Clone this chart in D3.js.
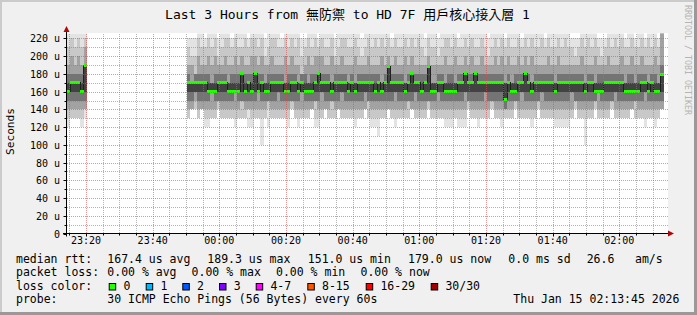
<!DOCTYPE html>
<html>
<head>
<meta charset="utf-8">
<script src="https://cdn.jsdelivr.net/npm/d3@7"></script>
<style>
body { margin: 0; background: #f0f0f0; }
text { font-family: "DejaVu Sans Mono", "Noto Sans CJK TC", monospace; fill: #000; }
</style>
</head>
<body>
<div id="chart"></div>
<script>
// ---- data ----
const titleText = "Last 3 Hours from 無防禦 to HD 7F 用戶核心接入層 1";
const startTime = new Date(2026, 0, 14, 23, 14, 18);
const endTime = new Date(2026, 0, 15, 2, 14, 18);

// minute columns with data: [first column, count]
const dataBlocks = [[0, 6], [36, 143]];

// per column values (us): block 1 (6 cols) then block 2 (143 cols)
const median = [160,170,170,170,160,189,
  170,170,170,170,170,170,160,160,160,170, 170,170,160,160,160,160,180,160,170,160,
  180,160,170,160,160,170,170,170,170,160, 160,170,170,160,170,160,160,160,170,180,
  170,170,170,160,170,170,170,170,160,170, 160,170,170,170,170,170,160,170,160,170,
  188,170,170,170,170,160,170,180,170,170, 160,170,188,160,160,170,170,160,160,160,
  160,170,170,180,170,170,180,170,170,170, 170,170,170,170,170,151,170,160,160,170,
  170,180,170,160,170,170,170,170,170,170, 160,170,170,170,170,170,170,170,170,160,
  170,170,160,160,160,170,170,170,170,170, 170,160,160,160,160,160,170,170,160,170,
  160,160,179];

// smoke: sorted ping ranks, outer to inner
const pingMax = [230,230,230,230,230,230,
  220,220,220,230,230,220,230,230,230,220, 230,230,230,220,230,230,230,230,220,230,
  230,230,230,220,230,230,230,230,220,230, 230,230,230,230,220,220,230,230,230,220,
  230,230,230,230,220,230,230,230,230,230, 230,230,220,230,230,230,230,230,230,230,
  230,220,230,230,230,230,230,230,230,230, 230,220,230,230,230,220,230,230,230,230,
  230,220,230,230,230,230,230,230,230,230, 220,230,230,230,230,220,230,230,230,230,
  220,230,230,230,230,230,230,220,230,230, 230,230,230,230,230,220,220,220,230,230,
  230,230,230,220,220,220,230,230,230,230, 230,220,230,230,220,230,230,220,230,230,
  230,220,230];
const pingHi = [210,220,210,220,210,220,
  210,200,200,220,210,210,220,210,220,200, 210,220,220,210,220,210,210,220,210,220,
  220,210,220,200,210,220,220,210,210,220, 210,220,210,220,200,210,220,210,220,210,
  220,210,210,220,200,210,220,220,210,210, 220,210,200,210,220,210,220,210,220,210,
  220,210,220,210,210,220,210,220,210,220, 210,200,220,210,210,200,210,220,220,210,
  220,210,210,220,210,220,210,210,220,210, 200,210,220,210,220,210,220,210,210,220,
  210,220,210,220,210,210,220,210,220,210, 210,220,210,220,210,210,200,210,220,210,
  220,210,220,210,200,210,220,210,220,210, 220,210,210,220,210,210,220,210,220,210,
  220,210,230];
const pingUp = [190,200,190,200,190,210,
  190,190,180,200,190,190,200,190,200,190, 190,200,190,190,200,190,200,190,190,200,
  200,190,200,190,190,200,190,190,190,200, 190,200,190,190,180,190,200,190,200,200,
  200,190,190,200,190,190,200,190,190,190, 200,190,190,190,200,190,190,190,200,190,
  200,190,200,190,190,200,190,200,190,190, 190,190,200,190,190,190,190,200,190,190,
  200,190,190,200,190,200,190,190,200,190, 190,190,200,190,200,190,200,190,190,200,
  190,200,190,200,190,190,190,190,200,190, 190,200,190,190,190,190,190,190,200,190,
  190,190,200,190,190,190,200,190,190,190, 200,190,190,200,190,190,200,190,190,190,
  200,190,230];
const quartHi = [180,180,180,180,180,190,
  180,170,180,180,180,180,180,170,180,180, 180,180,170,180,180,180,180,180,180,180,
  180,180,180,170,180,180,180,180,180,170, 180,180,180,170,180,180,170,180,180,180,
  180,180,180,170,180,180,180,180,170,180, 170,180,180,180,180,180,180,180,170,180,
  190,180,180,180,180,170,180,180,180,180, 180,180,190,170,170,180,180,170,180,180,
  170,180,180,180,180,180,180,180,180,180, 180,180,180,180,180,170,180,170,180,180,
  180,180,180,170,180,180,180,180,180,180, 170,180,180,180,180,180,180,180,180,170,
  180,180,170,180,180,180,180,180,180,180, 180,170,180,180,170,180,180,180,170,180,
  180,170,190];
const coreHi = [170,170,170,170,170,190,
  170,170,170,170,170,170,170,170,170,170, 170,170,170,170,170,170,180,170,170,170,
  180,170,170,170,170,170,170,170,170,170, 170,170,170,170,170,170,170,170,170,180,
  170,170,170,170,170,170,170,170,170,170, 170,170,170,170,170,170,170,170,170,170,
  190,170,170,170,170,170,170,180,170,170, 170,170,190,170,170,170,170,170,170,170,
  170,170,170,180,170,170,180,170,170,170, 170,170,170,170,170,170,170,170,170,170,
  170,180,170,170,170,170,170,170,170,170, 170,170,170,170,170,170,170,170,170,170,
  170,170,170,170,170,170,170,170,170,170, 170,170,170,170,170,170,170,170,170,170,
  170,170,180];
const coreLo = [160,160,160,160,160,160,
  160,160,160,160,160,160,160,160,160,160, 160,160,160,160,160,160,160,160,160,160,
  160,160,160,160,160,160,160,160,160,160, 160,160,160,160,160,160,160,160,160,160,
  160,160,160,160,160,160,160,160,160,160, 160,160,160,160,160,160,160,160,160,160,
  160,160,160,160,160,160,160,160,160,160, 160,160,160,160,160,160,160,160,160,160,
  160,160,160,160,160,160,160,160,160,160, 160,160,160,160,160,150,160,160,160,160,
  160,160,160,160,160,160,160,160,160,160, 160,160,160,160,160,160,160,160,160,160,
  160,160,160,160,160,160,160,160,160,160, 160,160,160,160,160,160,160,160,160,160,
  160,160,160];
const quartLo = [150,150,150,150,150,150,
  150,150,160,150,150,150,150,160,150,150, 150,150,150,150,160,150,150,150,150,150,
  150,160,150,150,150,150,150,160,150,150, 150,150,150,150,160,150,150,150,150,150,
  160,150,150,150,150,150,160,150,150,150, 150,150,150,160,150,150,150,150,150,150,
  150,150,160,150,150,150,150,150,160,150, 150,150,150,150,150,160,150,150,150,150,
  150,150,150,160,150,150,150,150,150,160, 150,150,150,150,150,140,150,150,150,150,
  160,150,150,150,150,150,160,150,150,150, 150,150,150,150,150,160,150,150,150,150,
  150,150,150,160,150,150,150,150,160,150, 150,150,150,150,150,150,150,160,150,150,
  150,150,150];
const pingDn = [140,140,140,140,140,140,
  140,140,150,140,140,140,140,140,140,150, 140,140,140,140,140,140,150,140,140,140,
  140,140,140,140,150,140,140,140,140,140, 140,150,140,140,140,140,140,140,150,140,
  140,140,140,150,140,140,140,140,140,140, 140,140,140,140,150,140,140,140,140,140,
  140,140,140,140,140,140,150,140,140,140, 140,140,150,140,140,140,140,140,140,140,
  140,140,140,140,150,140,140,140,140,140, 140,150,140,140,140,140,140,140,150,140,
  140,140,140,140,140,150,140,140,140,140, 140,140,140,140,140,140,150,140,140,140,
  140,140,150,140,140,140,140,150,140,140, 140,140,140,140,150,140,140,140,140,140,
  140,140,140];
const pingLo = [130,130,130,130,130,140,
  130,140,140,130,140,130,130,130,130,140, 130,130,130,130,130,130,130,130,140,130,
  130,130,130,130,140,130,130,130,130,130, 130,140,130,130,130,130,130,140,130,130,
  130,140,130,130,130,140,130,130,130,130, 130,130,130,140,130,130,130,130,130,130,
  140,130,130,130,130,130,130,140,130,130, 130,130,140,130,130,130,130,130,130,130,
  130,130,130,130,140,130,130,130,130,130, 130,140,130,130,130,130,130,130,140,130,
  130,130,130,130,130,140,130,130,130,130, 130,130,130,130,130,130,140,130,130,130,
  130,130,140,130,130,130,130,140,130,130, 130,130,130,140,130,130,130,130,130,130,
  130,130,140];
const pingMin = [120,130,130,130,120,130,
  130,140,140,130,140,120,120,130,130,140, 130,130,130,130,120,130,130,130,120,120,
  130,130,100,130,120,130,130,130,130,130, 120,140,130,120,130,130,130,140,120,120,
  130,140,130,130,130,140,130,130,130,130, 120,130,130,140,130,120,120,110,130,130,
  140,130,120,130,130,130,130,140,130,130, 130,130,140,130,130,130,130,120,120,120,
  130,120,120,120,140,130,130,120,130,130, 130,140,130,130,120,130,130,130,140,130,
  130,130,130,120,130,140,130,130,130,130, 120,120,120,120,120,130,140,130,130,100,
  130,130,140,130,130,130,130,140,130,130, 130,130,130,140,130,130,130,120,130,130,
  120,130,140];

const yMax = 225.6;
const legendRtt = [["median rtt:", 16], ["167.4 us avg", 107.3], ["189.3 us max", 207.3],
  ["151.0 us min", 307.8], ["179.0 us now", 408], ["0.0 ms sd", 508.3], ["26.6", 586.7], ["am/s", 635]];
const legendLoss = [["packet loss:", 16], ["0.00 % avg", 107.3], ["0.00 % max", 191.6],
  ["0.00 % min", 276], ["0.00 % now", 360.5]];
const lossLabels = ["0", "1", "2", "3", "4-7", "8-15", "16-29", "30/30"];
const lossColors = ["#26ff00", "#00b8ff", "#0059ff", "#7e00ff", "#ff00ff", "#ff5500", "#ff0000", "#a10000"];
const lossBoxX = [108.7, 145.7, 182.3, 219, 255.7, 307.3, 365.7, 430.7];
const legendProbe = [["probe:", 16], ["30 ICMP Echo Pings (56 Bytes) every 60s", 107.3],
  ["Thu Jan 15 02:13:45 2026", 513.3]];

// ---- layout ----
const width = 697, height = 315;
const plot = { left: 67, right: 667, top: 33.5, bottom: 233.5 };

const svg = d3.select("#chart").append("svg")
    .attr("width", width)
    .attr("height", height);

svg.append("rect").attr("width", width).attr("height", height).attr("fill", "#f0f0f0");
svg.append("rect").attr("width", width).attr("height", 2).attr("fill", "#cbcbcb");
svg.append("rect").attr("width", 2).attr("height", height).attr("fill", "#cbcbcb");
svg.append("rect").attr("x", width - 3).attr("width", 3).attr("height", height).attr("fill", "#999");
svg.append("rect").attr("y", height - 3).attr("width", width).attr("height", 3).attr("fill", "#999");

svg.append("rect")
    .attr("x", plot.left).attr("y", 33)
    .attr("width", plot.right - plot.left + 1).attr("height", 201)
    .attr("fill", "#fff");

const x = d3.scaleTime().domain([startTime, endTime]).range([plot.left, plot.right]);
const y = d3.scaleLinear().domain([0, yMax]).range([plot.bottom, plot.top]);

svg.append("clipPath").attr("id", "plotclip")
    .append("rect")
    .attr("x", plot.left).attr("y", plot.top)
    .attr("width", plot.right - plot.left).attr("height", plot.bottom - plot.top);

// columns
const cols = [];
let k = 0;
dataBlocks.forEach(([first, n], b) => {
    for (let j = 0; j < n; j++, k++) {
        const c = first + j;
        cols.push({
            block: b,
            t0: d3.timeSecond.offset(startTime, c * 60),
            t1: d3.timeSecond.offset(startTime, (c + 1) * 60),
            med: median[k],
            bands: [
                [pingMin[k], pingMax[k]],
                [pingLo[k], pingHi[k]],
                [pingDn[k], pingUp[k]],
                [quartLo[k], quartHi[k]],
                [coreLo[k], coreHi[k]]
            ]
        });
    }
});

const smokeColors = ["#e3e3e3", "#c8c8c8", "#a2a2a2", "#747474", "#424242"];
const g = svg.append("g").attr("clip-path", "url(#plotclip)");

smokeColors.forEach((color, bi) => {
    g.append("g").selectAll("rect")
        .data(cols)
        .join("rect")
        .attr("x", d => x(d.t0))
        .attr("width", d => x(d.t1) - x(d.t0))
        .attr("y", d => y(d.bands[bi][1]))
        .attr("height", d => y(d.bands[bi][0]) - y(d.bands[bi][1]))
        .attr("fill", color)
        .attr("shape-rendering", "crispEdges");
});

// median step line
const medLine = d3.line().curve(d3.curveStepAfter).x(d => x(d[0])).y(d => y(d[1]));
dataBlocks.forEach((blk, b) => {
    const c = cols.filter(d => d.block === b);
    const pts = c.map(d => [d.t0, d.med]);
    pts.push([c[c.length - 1].t1, c[c.length - 1].med]);
    g.append("path")
        .attr("d", medLine(pts))
        .attr("fill", "none")
        .attr("stroke", "#202020")
        .attr("stroke-width", 1)
        .attr("shape-rendering", "crispEdges");
});

g.append("g").selectAll("rect")
    .data(cols)
    .join("rect")
    .attr("x", d => x(d.t0))
    .attr("width", d => x(d.t1) - x(d.t0))
    .attr("y", d => y(d.med) - 1.5)
    .attr("height", 3)
    .attr("fill", lossColors[0])
    .attr("shape-rendering", "crispEdges");

// grid (drawn over the graph, like rrdtool)
const minorT = x.ticks(d3.timeMinute.every(5));
const majorT = x.ticks(d3.timeMinute.every(20));
const majorMs = new Set(majorT.map(t => +t));
const minorV = y.ticks(24);
const majorV = y.ticks(12);
const grid = svg.append("g");
const px = v => Math.round(v) + 0.5;
const minorCol = "rgba(130,130,130,0.6)";
const majorCol = "rgba(205,80,80,0.6)";

grid.selectAll(".vmin")
    .data(minorT.filter(t => !majorMs.has(+t)))
    .join("line")
    .attr("x1", d => px(x(d))).attr("x2", d => px(x(d)))
    .attr("y1", 34).attr("y2", 234)
    .attr("stroke", minorCol)
    .attr("stroke-dasharray", "1,1");
grid.selectAll(".hmin")
    .data(minorV.filter(v => v % 20 !== 0))
    .join("line")
    .attr("x1", plot.left).attr("x2", plot.right + 1)
    .attr("y1", d => px(y(d))).attr("y2", d => px(y(d)))
    .attr("stroke", minorCol)
    .attr("stroke-dasharray", "1,1");
grid.selectAll(".vmaj")
    .data(majorT)
    .join("line")
    .attr("x1", d => px(x(d))).attr("x2", d => px(x(d)))
    .attr("y1", 34).attr("y2", 234)
    .attr("stroke", majorCol)
    .attr("stroke-dasharray", "1,1");
grid.selectAll(".hmaj")
    .data(majorV.filter(v => v > 0))
    .join("line")
    .attr("x1", plot.left).attr("x2", plot.right + 1)
    .attr("y1", d => px(y(d))).attr("y2", d => px(y(d)))
    .attr("stroke", majorCol)
    .attr("stroke-dasharray", "1,1");

// axes
const axis = svg.append("g").attr("stroke", "#000").attr("stroke-width", 1);
axis.append("line").attr("x1", 63).attr("x2", 669).attr("y1", plot.bottom).attr("y2", plot.bottom);
axis.append("line").attr("x1", 66.5).attr("x2", 66.5).attr("y1", 236.5).attr("y2", 31);
axis.selectAll(".xt").data(minorT).join("line")
    .attr("x1", d => px(x(d))).attr("x2", d => px(x(d)))
    .attr("y1", plot.bottom)
    .attr("y2", d => plot.bottom + (majorMs.has(+d) ? 3 : 2));
axis.selectAll(".yt").data(minorV).join("line")
    .attr("y1", d => px(y(d))).attr("y2", d => px(y(d)))
    .attr("x1", d => d % 20 === 0 ? 63.5 : 64.5).attr("x2", 66.5);

svg.append("path")
    .attr("d", "M66.5,26 L63.5,32 L69.5,32 Z")
    .attr("fill", "#ad0707");
svg.append("path")
    .attr("d", "M674,233.5 L668,230.5 L668,236.5 Z")
    .attr("fill", "#ad0707");

// tick labels
svg.append("g").selectAll("text")
    .data(majorV)
    .join("text")
    .attr("x", 60)
    .attr("y", d => y(d) + 4)
    .attr("text-anchor", "end")
    .attr("font-size", "10px")
    .text(d => d === 0 ? "0" : d + " u");

svg.append("g").selectAll("text")
    .data(majorT)
    .join("text")
    .attr("x", d => x(d))
    .attr("y", 244)
    .attr("text-anchor", "middle")
    .attr("font-size", "10px")
    .text(d => d3.timeFormat("%H:%M")(d));

// titles
svg.append("text")
    .attr("x", 347.5).attr("y", 19)
    .attr("text-anchor", "middle")
    .attr("font-size", "13px")
    .text(titleText);

svg.append("text")
    .attr("transform", "translate(14,131.5) rotate(-90)")
    .attr("text-anchor", "middle")
    .attr("font-size", "11.2px")
    .text("Seconds");

svg.append("text")
    .attr("transform", "translate(685,5) rotate(90)")
    .attr("font-size", "8.3px")
    .style("fill", "#b4b4b4")
    .text("RRDTOOL / TOBI OETIKER");

// legend
const legendY = [262.5, 276, 289.5, 303];
const leg = svg.append("g").attr("font-size", "11.5px");
[legendRtt, legendLoss, [["loss color:", 16]], legendProbe].forEach((row, i) => {
    leg.append("g").selectAll("text")
        .data(row)
        .join("text")
        .attr("x", d => d[1])
        .attr("y", legendY[i])
        .attr("xml:space", "preserve")
        .text(d => d[0]);
});
leg.append("g").selectAll("rect")
    .data(lossLabels)
    .join("rect")
    .attr("x", (d, i) => lossBoxX[i] + 0.5)
    .attr("y", 283.5)
    .attr("width", 6.5)
    .attr("height", 6.5)
    .attr("fill", (d, i) => lossColors[i])
    .attr("stroke", "#000")
    .attr("stroke-width", 1);
leg.append("g").selectAll("text")
    .data(lossLabels)
    .join("text")
    .attr("x", (d, i) => lossBoxX[i] + 14.7)
    .attr("y", legendY[2])
    .text(d => d);
</script>
</body>
</html>
